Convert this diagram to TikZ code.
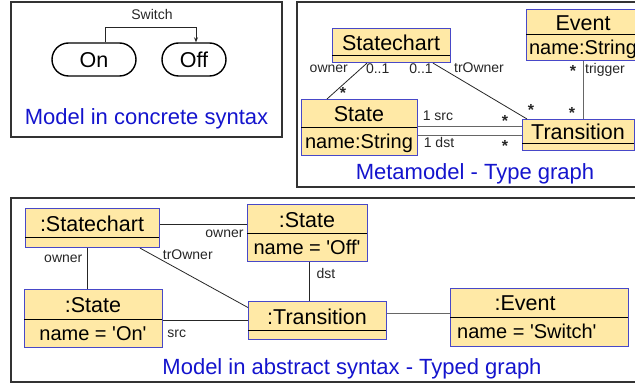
\documentclass[tikz,border=0pt]{standalone}
\usepackage{fontspec}
\setmainfont{Liberation Sans}
\usetikzlibrary{calc,arrows.meta}

\definecolor{clsfill}{RGB}{255,233,166}
\definecolor{clsedge}{RGB}{72,72,200}
\definecolor{capblue}{RGB}{20,20,205}

\tikzset{
  panel/.style={draw=black!80, line width=1.5pt},
  clsbox/.style={draw=clsedge, fill=clsfill, line width=1.1pt, inner sep=0pt, anchor=north west},
  divline/.style={draw=black, line width=0.9pt},
  titletext/.style={font=\fontsize{21.5}{24}\selectfont, inner sep=0pt, text height=15.4pt, text depth=0pt},
  attrtext/.style={font=\fontsize{20}{22}\selectfont, inner sep=0pt, text height=14.3pt, text depth=0pt},
  caption/.style={font=\fontsize{22}{24}\selectfont, text=capblue, inner sep=0pt, anchor=base},
  lbl/.style={font=\fontsize{14}{16}\selectfont, text=black!85, inner sep=0pt, anchor=base},
  mult/.style={font=\bfseries\fontsize{16}{18}\selectfont, text=black!85, inner sep=0pt, anchor=base},
  conn/.style={draw=black!85, line width=0.8pt},
  grayconn/.style={draw=black!60, line width=1pt},
  pill/.style={draw=black, line width=1.4pt, rounded corners=16.5pt, minimum height=33pt,
    inner sep=0pt, font=\fontsize{21.5}{24}\selectfont, text height=15.4pt, text depth=0pt},
  transarrow/.style={draw=black!85, line width=0.8pt, -{Stealth[length=5pt,width=4pt]}}
}

% straight single quote
\newcommand\sq{\textquotesingle}

% class box: name, x1, y1, x2, y2, divider y, title, attribute
\newcommand\classbox[8]{%
  \node[clsbox, minimum width={(#4-#2)*1pt}, minimum height={(#5-#3)*1pt}] (#1) at (#2,#3) {};
  \draw[divline] (#2,#6) -- (#4,#6);
  \node[titletext] (#1-t) at ({(#2+#4)/2},{(#3+#6)/2+1}) {#7};
  \ifx\relax#8\relax\else
    \node[attrtext] (#1-a) at ({(#2+#4)/2},{(#6+#5)/2+0.5}) {#8};
  \fi
}

\begin{document}
\begin{tikzpicture}[x=1pt, y=-1pt]
\useasboundingbox (0,0) rectangle (635,387);
\clip (0,0) rectangle (635,387);

% ---------- concrete syntax ----------
\draw[panel] (11,2) rectangle (282,137);
\node[pill, minimum width=84pt] (on) at (94,59.5) {On};
\node[pill, minimum width=64pt] (off) at (194,59.5) {Off};
\draw[transarrow] ([xshift=11pt]on.north) -- ++(0,-15) -| ([xshift=2pt]off.north);
\node[lbl] (swlbl) at (152,20) {Switch};
\node[caption] (cap1) at (146.5,125) {Model in concrete syntax};

% ---------- metamodel ----------
\draw[panel] (297,2) rectangle (660,187);
\classbox{sc}{332}{28}{450}{62}{55}{Statechart}{}
\classbox{ev}{526}{9}{640}{60}{34}{Event}{name:String}
\classbox{st}{301}{99}{417}{155}{127}{State}{name:String}
\classbox{tr}{522}{119}{634}{150}{143}{Transition}{}

\draw[conn] ($(sc.south west)+(35,0)$) -- ($(st.north west)+(26,0)$);
\draw[conn] ($(sc.south west)+(101,0)$) -- ($(tr.north west)+(5,0)$);
\draw[grayconn] ($(ev.south west)+(57,0)$) -- ($(tr.north west)+(61,0)$);
\coordinate (srcA) at ([yshift=1pt]st.east);
\coordinate (dstA) at ([yshift=-8pt]st.east);
\draw[grayconn] (srcA) -- (srcA -| tr.west);
\draw[grayconn] (dstA) -- (dstA -| tr.west);

\node[lbl] (m1) at (328.8,73) {owner};
\node[lbl] (m2) at (377.7,74) {0..1};
\node[lbl] (m3) at (421,74) {0..1};
\node[lbl] (m4) at (479,73) {trOwner};
\node[lbl] (m5) at (605,74) {trigger};
\node[lbl] (m6) at (438,121) {1 src};
\node[lbl] (m7) at (439,148) {1 dst};
\node[mult] (s1) at (343,99) {*};
\node[mult] (s2) at (531,116) {*};
\node[mult] (s3) at (572,119) {*};
\node[mult] (s4) at (573,77) {*};
\node[mult] (s5) at (505,127) {*};
\node[mult] (s6) at (505,152) {*};
\node[caption] (cap2) at (475,180) {Metamodel - Type graph};

% ---------- abstract syntax ----------
\draw[panel] (11,198) rectangle (660,382);
\classbox{sc3}{25}{208}{159}{247}{237}{:Statechart}{}
\classbox{off3}{247}{204}{367}{261}{233.5}{:State}{name = \sq Off\sq}
\classbox{on3}{24}{289}{162}{347}{319}{:State}{name = \sq On\sq}
\classbox{tr3}{248}{301}{386}{339}{330}{:Transition}{}
\node[clsbox, minimum width=178pt, minimum height=58pt] (ev3) at (450,288) {};
\draw[divline] (450,317) -- (628,317);
\node[titletext] (ev3-t) at (525,303.3) {:Event};
\node[attrtext, anchor=west] (ev3-a) at (457,331.5) {name = \sq Switch\sq};

\coordinate (ownA) at ([yshift=3.5pt]sc3.east);
\draw[conn] (ownA) -- (ownA -| off3.west);
\draw[conn] ([xshift=-5pt]sc3.south) -- ([xshift=-5pt]sc3.south |- on3.north);
\draw[conn] ($(sc3.south west)+(115,0)$) -- ([yshift=13pt]tr3.west);
\draw[conn] (on3.east |- tr3.west) -- (tr3.west);
\draw[conn] ([xshift=2pt]off3.south) -- ([xshift=2pt]off3.south |- tr3.north);
\coordinate (trgA) at ([yshift=4pt]ev3.west);
\draw[grayconn] (trgA) -- (trgA -| tr3.east);

\node[lbl] (o1) at (224.5,237.3) {owner};
\node[lbl] (o2) at (63.3,262.7) {owner};
\node[lbl] (o3) at (187.8,260) {trOwner};
\node[lbl] (o4) at (176.7,338) {src};
\node[lbl] (o5) at (326,279) {dst};
\node[caption] (cap3) at (352,375) {Model in abstract syntax - Typed graph};
\end{tikzpicture}
\end{document}
